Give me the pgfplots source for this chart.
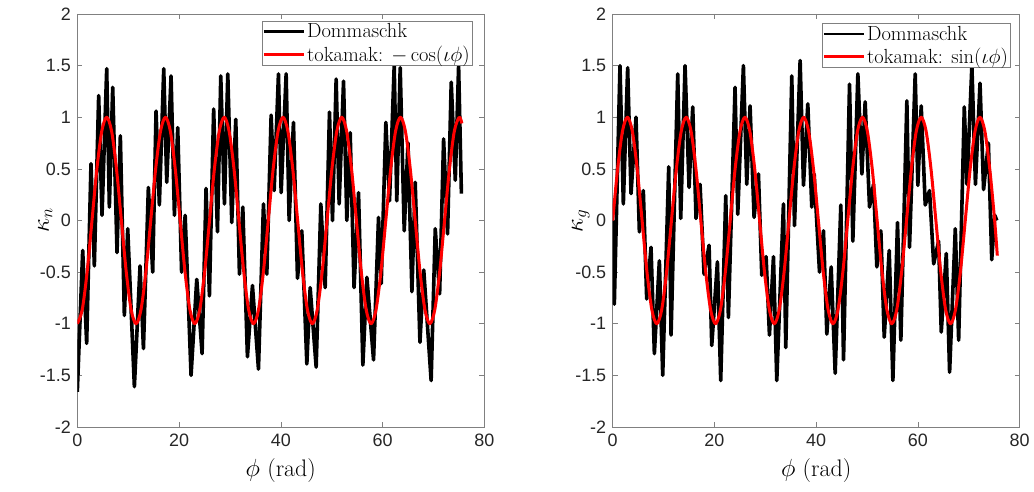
\documentclass[border=0pt]{standalone}
\usepackage{fontspec}
\usepackage{pgfplots}
\pgfplotsset{compat=1.18}
\usepackage{pgfplotstable}
\newfontfamily\tickfont{Liberation Sans}

\pgfplotstableread{
phi nrm geo
0 -1 0
0.9625 -0.866 0.5
1.925 -0.5 0.866
2.8875 0 1
3.85 0.5 0.866
4.8125 0.866 0.5
5.775 1 0
6.7375 0.866 -0.5
7.7 0.5 -0.866
8.6625 0 -1
9.625 -0.5 -0.866
10.5875 -0.866 -0.5
11.55 -1 0
12.5125 -0.866 0.5
13.475 -0.5 0.866
14.4375 0 1
15.4 0.5 0.866
16.3625 0.866 0.5
17.325 1 0
18.2875 0.866 -0.5
19.25 0.5 -0.866
20.2125 0 -1
21.175 -0.5 -0.866
22.1375 -0.866 -0.5
23.1 -1 0
24.0625 -0.866 0.5
25.025 -0.5 0.866
25.9875 0 1
26.95 0.5 0.866
27.9125 0.866 0.5
28.875 1 0
29.8375 0.866 -0.5
30.8 0.5 -0.866
31.7625 0 -1
32.725 -0.5 -0.866
33.6875 -0.866 -0.5
34.65 -1 0
35.6125 -0.866 0.5
36.575 -0.5 0.866
37.5375 0 1
38.5 0.5 0.866
39.4625 0.866 0.5
40.425 1 0
41.3875 0.866 -0.5
42.35 0.5 -0.866
43.3125 0 -1
44.275 -0.5 -0.866
45.2375 -0.866 -0.5
46.2 -1 0
47.1625 -0.866 0.5
48.125 -0.5 0.866
49.0875 0 1
50.05 0.5 0.866
51.0125 0.866 0.5
51.975 1 0
52.9375 0.866 -0.5
53.9 0.5 -0.866
54.8625 0 -1
55.825 -0.5 -0.866
56.7875 -0.866 -0.5
57.75 -1 0
58.7125 -0.866 0.5
59.675 -0.5 0.866
60.6375 0 1
61.6 0.5 0.866
62.5625 0.866 0.5
63.525 1 0
64.4875 0.866 -0.5
65.45 0.5 -0.866
66.4125 0 -1
67.375 -0.5 -0.866
68.3375 -0.866 -0.5
69.3 -1 0
70.2625 -0.866 0.5
71.225 -0.5 0.866
72.1875 0 1
73.15 0.5 0.866
74.1125 0.866 0.5
75.075 1 0
75.6 0.94 -0.34
}\redtab

\pgfplotstableread{
phi k
0 -1.66
1.06 -0.29
1.84 -1.19
2.69 0.55
3.35 -0.44
4.20 1.21
4.86 0.05
5.78 1.47
6.30 0.13
6.96 1.29
7.81 -0.31
8.46 0.82
9.25 -0.92
9.91 -0.08
11.22 -1.61
12.33 -0.44
13.0 -1.24
13.97 0.32
14.82 -0.5
15.48 1.06
16.13 0.15
16.99 1.47
17.58 0.37
18.43 1.40
19.09 0.05
19.74 0.90
20.5 -0.5
21.2 0.05
22.36 -1.5
23.48 -0.57
24.53 -1.29
25.31 0.31
25.97 -0.73
26.8 1.08
27.55 -0.11
28.20 1.40
28.92 0.16
29.58 1.42
30.36 -0.02
31.15 0.98
31.87 -0.52
32.53 0.13
33.44 -1.32
34.43 -0.63
35.61 -1.44
36.59 0.16
37.25 -0.52
38.10 1.02
38.69 0.29
39.54 1.42
40.07 0.27
41.05 1.42
41.64 0.0
42.49 0.95
43.28 -0.56
44.13 -0.1
45.12 -1.39
45.77 -0.65
46.95 -1.42
47.87 0.16
48.72 -0.65
49.57 1.05
50.16 0.0
50.88 1.37
51.47 0.16
52.33 1.35
52.98 0.0
53.64 0.85
54.4 -0.65
55.28 0.27
56.13 -1.40
56.92 -0.55
58.23 -1.35
59.21 0.03
59.74 -0.61
60.65 0.95
61.37 0.19
62.29 1.5
62.8 0.19
63.47 1.48
64.26 -0.1
65.0 0.75
65.77 -0.69
66.42 0.37
67.35 -1.18
68.1 -0.48
69.55 -1.55
70.36 -0.08
71.22 -0.71
72.0 0.79
72.78 -0.13
73.5 1.34
74.3 0.39
74.95 1.5
75.5 0.26
}\kntab

\pgfplotstableread{
phi k
0 0
0.32 -0.81
1.43 1.5
2.09 0.16
2.94 1.48
3.6 0.26
4.58 1.0
5.24 -0.11
6.02 0.29
6.68 -0.76
7.53 -0.26
8.19 -1.29
9.17 -0.39
9.83 -1.5
11.01 0.52
11.47 -1.11
12.78 1.42
13.37 0.02
14.22 1.5
15.01 0.32
15.73 1.1
16.38 0.02
17.17 0.35
17.96 -0.52
18.94 -0.24
19.47 -1.21
20.58 -0.4
21.23 -1.55
22.22 0.24
22.74 -0.94
24.05 1.29
24.58 0.06
25.69 1.5
26.35 0.35
27.0 1.11
27.79 0.03
28.65 0.45
29.3 -0.53
30.15 -0.35
30.81 -1.11
31.6 -0.35
32.25 -1.55
33.56 0.16
34.02 -1.23
35.2 1.4
35.73 -0.05
36.84 1.55
37.5 0.34
38.35 1.13
39.13 0.13
39.6 0.45
40.65 -0.5
41.43 -0.1
42.09 -1.1
42.94 -0.45
43.73 -1.48
44.84 0.15
45.37 -1.35
46.55 1.32
47.2 -0.2
48.19 1.42
48.98 0.45
49.62 1.15
50.48 0.13
51.27 0.35
51.92 -0.45
52.71 -0.1
53.37 -1.13
54.35 -0.29
55.07 -1.55
55.98 -0.02
56.64 -1.16
57.82 1.16
58.34 -0.26
59.46 1.42
59.98 0.34
60.64 1.11
61.43 0.15
62.28 0.29
63.09 -0.42
64.06 -0.2
64.58 -1.08
65.57 -0.32
66.22 -1.47
67.34 -0.08
68.0 -1.16
69.11 1.1
69.64 0.35
70.6 1.5
71.3 0.35
72.2 1.33
72.9 0.3
73.85 0.75
74.5 -0.38
75.1 0.05
75.5 0.0
}\kgtab

\pgfplotsset{
  panel/.style={
    width=407bp, height=413bp, scale only axis,
    xmin=0, xmax=80, ymin=-2, ymax=2,
    xtick={0,20,40,60,80},
    ytick={-2,-1.5,-1,-0.5,0,0.5,1,1.5,2},
    tick align=inside,
    major tick length=5bp,
    axis line style={draw=black!50, line width=0.6bp},
    every tick/.style={draw=black!50, line width=0.6bp},
    /pgf/number format/assume math mode=true,
    tick label style={font=\tickfont\fontsize{18}{18}\selectfont, text=black!85},
    yticklabel style={xshift=-3bp},
    xticklabel style={yshift=-3bp},
    xlabel style={at={(axis description cs:0.5,0)}, anchor=center, yshift=-44bp, font=\fontsize{24}{28}\selectfont},
    ylabel style={at={(axis description cs:0,0.5)}, anchor=center, yshift=32bp, font=\fontsize{24}{28}\selectfont},
    legend cell align=left,
    legend style={anchor=north east, draw=black!50, line width=0.6bp, fill=white,
      font=\fontsize{20.5}{23}\selectfont, inner sep=0.5bp, row sep=2.5bp},
    legend image code/.code={\draw[#1, line width=2.4bp] (0bp,0bp) -- (40bp,0bp);},
    every axis plot/.append style={line join=round},
  }
}

\begin{document}
\begin{tikzpicture}
\useasboundingbox (0,0) rectangle (1034bp,492bp);
\begin{axis}[panel, at={(77.3bp,65bp)}, anchor=south west,
  xlabel={$\phi$ (rad)}, ylabel={$\kappa_n$},
  legend style={at={(axis description cs:0.971,0.983)}}]
\addplot[black, line width=3.6bp] table[x=phi,y=k] {\kntab};
\addlegendentry{Dommaschk}
\addplot[red, line width=3bp, smooth] table[x=phi,y=nrm] {\redtab};
\addlegendentry{tokamak: $-\cos(\iota\phi)$}
\end{axis}
\begin{axis}[panel, at={(612.7bp,65bp)}, anchor=south west,
  xlabel={$\phi$ (rad)}, ylabel={$\kappa_g$},
  legend style={at={(axis description cs:0.978,0.978)}}]
\addplot[black, line width=3.6bp] table[x=phi,y=k] {\kgtab};
\addlegendentry{Dommaschk}
\addplot[red, line width=3bp, smooth] table[x=phi,y=geo] {\redtab};
\addlegendentry{tokamak: $\sin(\iota\phi)$}
\end{axis}
\end{tikzpicture}
\end{document}
